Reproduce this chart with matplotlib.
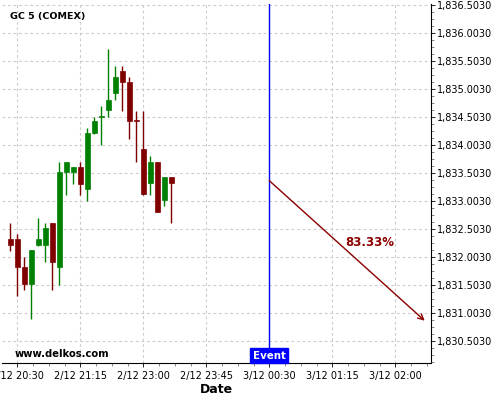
import matplotlib
matplotlib.use("Agg")
import matplotlib.pyplot as plt
import numpy as np
from matplotlib.ticker import AutoMinorLocator, FuncFormatter

# 5 min candles, GC 5 (COMEX)
opens = [1832.313, 1832.313, 1831.813, 1831.509, 1832.211, 1832.211, 1832.610, 1831.813,
         1833.509, 1833.509, 1833.610, 1833.211, 1834.205, 1834.505, 1834.616, 1834.926,
         1835.313, 1835.116, 1834.440, 1833.920, 1833.313, 1833.699, 1833.009, 1833.420]
highs = [1832.610, 1832.414, 1831.997, 1832.116, 1832.699, 1832.610, 1832.610, 1833.699,
         1833.699, 1833.610, 1833.699, 1834.307, 1834.497, 1834.699, 1835.717, 1835.414,
         1835.414, 1835.205, 1834.610, 1834.610, 1833.807, 1833.699, 1833.420, 1833.420]
lows = [1832.104, 1831.307, 1831.414, 1830.896, 1832.199, 1831.914, 1831.414, 1831.503,
        1833.110, 1833.307, 1833.110, 1833.003, 1834.193, 1834.003, 1834.503, 1834.807,
        1834.610, 1834.104, 1833.699, 1833.110, 1833.110, 1832.807, 1832.908, 1832.610]
closes = [1832.211, 1831.813, 1831.509, 1832.116, 1832.313, 1832.509, 1831.914, 1833.509,
          1833.699, 1833.610, 1833.307, 1834.205, 1834.420, 1834.515, 1834.807, 1835.205,
          1835.116, 1834.420, 1834.425, 1833.116, 1833.699, 1832.807, 1833.420, 1833.313]

tick_pos = [1, 10, 19, 28, 37, 46, 55]
tick_labels = ["2/12 20:30", "2/12 21:15", "2/12 23:00", "2/12 23:45",
               "3/12 00:30", "3/12 01:15", "3/12 02:00"]
y_ticks = [1830.503, 1831.003, 1831.503, 1832.003, 1832.503, 1833.003, 1833.503,
           1834.003, 1834.503, 1835.003, 1835.503, 1836.003, 1836.503]

event_idx = 37
event_value = 1833.36
target_idx = 59.2
target_value = 1830.86
probability = "83.33%"

green = "#008000"
red = "#800000"

fig = plt.figure(figsize=(5, 4), dpi=100)
ax = fig.add_axes([0.004, 0.0925, 0.858, 0.8975])

x = np.arange(len(opens))
o = np.array(opens)
c = np.array(closes)
colors = [green if cc >= oo else red for oo, cc in zip(o, c)]

ax.vlines(x, lows, highs, colors=colors, linewidth=1, zorder=3)
ax.bar(x, np.abs(c - o), bottom=np.minimum(o, c), width=0.7, color=colors,
       edgecolor=colors, linewidth=0.5, zorder=4)

# event
ax.axvline(event_idx, color="blue", linewidth=1, zorder=5)
ax.text(event_idx, 0.006, "Event", transform=ax.get_xaxis_transform(),
        ha="center", va="bottom", color="white", fontsize=7.4, fontweight="bold",
        bbox=dict(boxstyle="square,pad=0.25", fc="blue", ec="blue"), zorder=6)

ax.annotate("", xy=(target_idx, target_value), xytext=(event_idx, event_value),
            arrowprops=dict(arrowstyle="->", color="#8b0000", lw=1,
                            shrinkA=0, shrinkB=0, mutation_scale=10), zorder=6)
ax.text(51.4, 1832.253, probability, color="#8b0000", fontsize=8.5,
        fontweight="bold", ha="center", va="center")

ax.set_xlim(-1.19, 60.1)
ax.set_ylim(1830.105, 1836.515)

ax.set_xticks(tick_pos)
ax.set_xticklabels(tick_labels, fontsize=7)
ax.xaxis.set_minor_locator(AutoMinorLocator(4))

ax.yaxis.tick_right()
ax.set_yticks(y_ticks)
ax.yaxis.set_major_formatter(FuncFormatter(lambda v, p: "{:,.4f}".format(v)))
ax.yaxis.set_minor_locator(AutoMinorLocator(4))
ax.tick_params(axis="y", labelsize=7, length=3, width=0.6, pad=1)
ax.tick_params(axis="x", length=3, width=0.6, pad=3)
ax.tick_params(which="minor", length=2, width=0.5, color="#555555")

ax.grid(True, linestyle=(0, (2.5, 2.5)), color="#cccccc", linewidth=0.8)
ax.set_axisbelow(True)

ax.spines["left"].set_visible(False)
ax.spines["top"].set_visible(False)

ax.text(0.018, 0.965, "GC 5 (COMEX)", transform=ax.transAxes, fontsize=6.8,
        fontweight="bold", va="center", ha="left")
ax.text(0.03, 0.025, "www.delkos.com", transform=ax.transAxes, fontsize=7.2,
        fontweight="bold", va="center", ha="left")

ax.set_xlabel("Date", fontsize=9, fontweight="bold", labelpad=1)

fig.savefig("out.png", dpi=100)
